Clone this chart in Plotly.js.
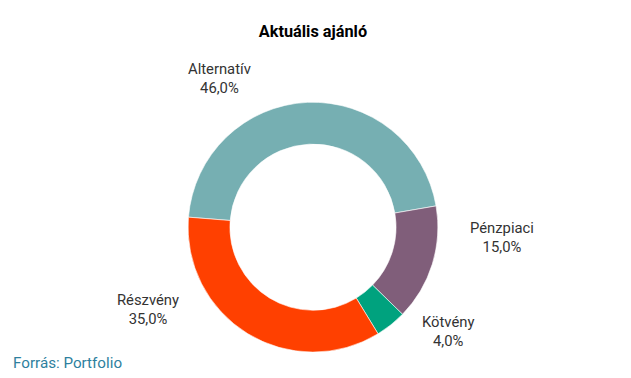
<!DOCTYPE html>
<html>
<head>
<meta charset="utf-8">
<script src="https://cdn.plot.ly/plotly-3.0.1.min.js"></script>
<style>html,body{margin:0;padding:0;background:#fff;}#chart{width:631px;height:378px;}</style>
</head>
<body>
<div id="chart"></div>
<script>
const categories = ['Alternatív', 'Pénzpiaci', 'Kötvény', 'Részvény'];
const values = [46.0, 15.0, 4.0, 35.0];
const colors = ['#76afb2', '#805e7a', '#00a27e', '#ff4000'];

// label anchor positions in paper coords (layout only)
const labelPos = [[0.348, 0.793], [0.796, 0.372], [0.71, 0.122], [0.235, 0.18]];

const fmt = v => v.toFixed(1).replace('.', ',') + '%';

const trace = {
  type: 'pie',
  labels: categories,
  values: values,
  hole: 0.665,
  sort: false,
  direction: 'clockwise',
  rotation: -85.4,
  marker: {colors: colors, line: {color: '#ffffff', width: 0.6}},
  textinfo: 'none',
  hoverinfo: 'label+percent',
  domain: {x: [0.298, 0.694], y: [0.068, 0.73]},
  showlegend: false
};

const annotations = categories.map((c, i) => ({
  xref: 'paper', yref: 'paper',
  x: labelPos[i][0], y: labelPos[i][1],
  xanchor: 'center', yanchor: 'middle',
  text: c + '<br>' + fmt(values[i]),
  showarrow: false,
  font: {family: 'Roboto, sans-serif', size: 14.8, color: '#333333'}
}));
annotations.push({
  xref: 'paper', yref: 'paper', x: 0.017, y: 0.041,
  xanchor: 'left', yanchor: 'middle',
  text: 'Forrás: Portfolio', showarrow: false,
  font: {family: 'Roboto, sans-serif', size: 15.2, color: '#2e7f9e'}
});

const layout = {
  width: 631, height: 378,
  margin: {l: 0, r: 0, t: 0, b: 0},
  paper_bgcolor: '#ffffff',
  title: {text: '<b>Aktuális ajánló</b>', x: 0.496, xanchor: 'center', y: 0.918, yanchor: 'middle',
          font: {family: 'Roboto, sans-serif', size: 16.3, color: '#000000'}},
  annotations: annotations
};

Plotly.newPlot('chart', [trace], layout, {displayModeBar: false, staticPlot: true});
</script>
</body>
</html>
